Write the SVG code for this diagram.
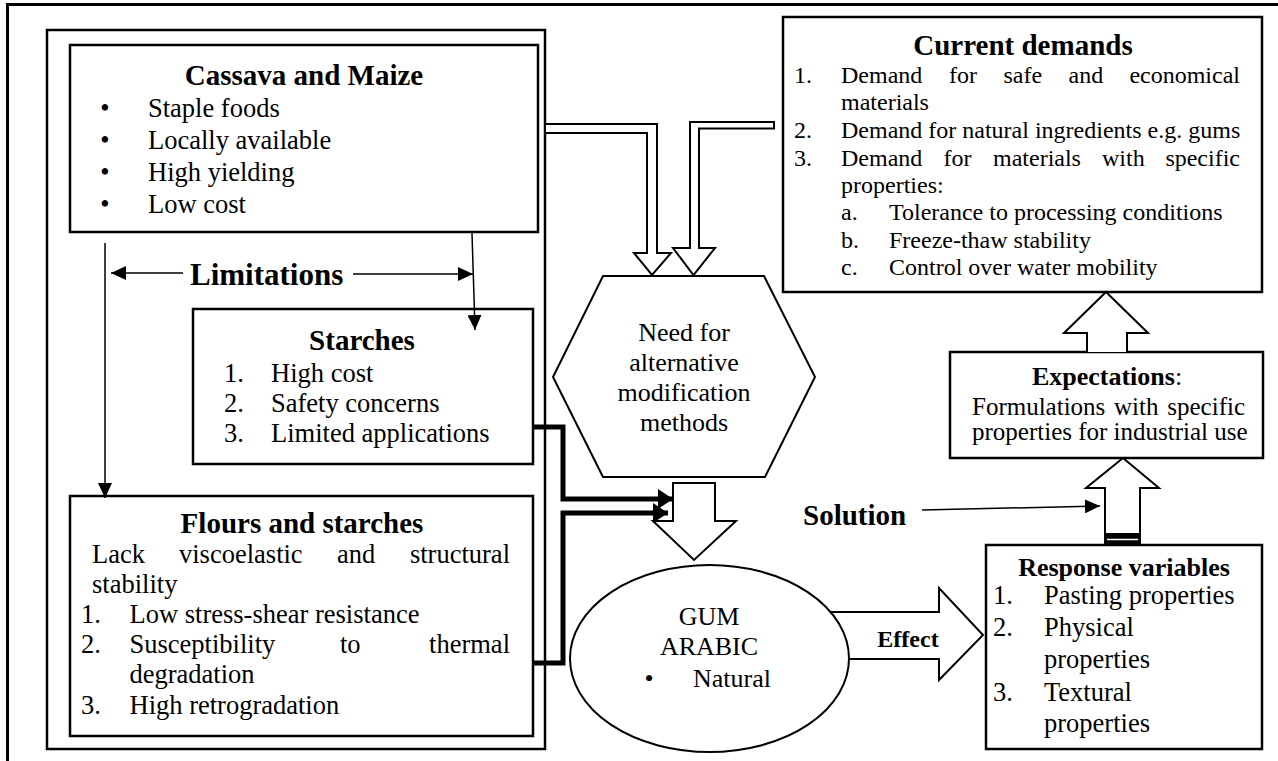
<svg xmlns="http://www.w3.org/2000/svg" width="1278" height="761" viewBox="0 0 1278 761">
<style>
text{font-family:"Liberation Serif","Times New Roman",serif;fill:#000}
.t{font-size:26.5px}
.s{font-size:24px}
.e{font-size:25px}
.h{font-size:26px}
.b{font-weight:bold;font-size:29px}
.box{fill:#fff;stroke:#000;stroke-width:2.5}
.blk{fill:#fff;stroke:#000;stroke-width:2;stroke-linejoin:miter}
.thin{fill:none;stroke:#000;stroke-width:1.5}
.thick{fill:none;stroke:#000;stroke-width:5}
</style>
<defs>
<marker id="ah" markerUnits="userSpaceOnUse" markerWidth="16" markerHeight="14" refX="15" refY="7" orient="auto">
<path d="M0,0 L15,7 L0,14 z" fill="#000"/>
</marker>
<marker id="ahk" markerUnits="userSpaceOnUse" markerWidth="16" markerHeight="20" refX="15" refY="10" orient="auto">
<path d="M0,0 L15,10 L0,20 z" fill="#000"/>
</marker>
</defs>
<rect width="1278" height="761" fill="#fff"/>
<g id="frame">
<path d="M1278,4.5 H7.5 V761" fill="none" stroke="#000" stroke-width="3"/>
<rect x="47" y="30" width="498" height="719" fill="#fff" stroke="#000" stroke-width="2.5"/>
</g>
<g id="cassava">
<rect class="box" x="70" y="45" width="468" height="187"/>
<text class="b" x="304" y="85" text-anchor="middle">Cassava and Maize</text>
<text class="t" x="105" y="117" text-anchor="middle">•</text>
<text class="t" x="148" y="117">Staple foods</text>
<text class="t" x="105" y="149" text-anchor="middle">•</text>
<text class="t" x="148" y="149">Locally available</text>
<text class="t" x="105" y="181" text-anchor="middle">•</text>
<text class="t" x="148" y="181">High yielding</text>
<text class="t" x="105" y="213" text-anchor="middle">•</text>
<text class="t" x="148" y="213">Low cost</text>
</g>
<g id="limitations">
<text class="b" x="190" y="285" style="font-size:31px">Limitations</text>
</g>
<g id="starches">
<rect class="box" x="193" y="309" width="340" height="155"/>
<text class="b" x="362" y="350" text-anchor="middle">Starches</text>
<text class="t" x="224" y="382">1.</text><text class="t" x="271" y="382">High cost</text>
<text class="t" x="224" y="412">2.</text><text class="t" x="271" y="412">Safety concerns</text>
<text class="t" x="224" y="442">3.</text><text class="t" x="271" y="442">Limited applications</text>
</g>
<g id="flours">
<rect class="box" x="70" y="496" width="463" height="240"/>
<text class="b" x="302" y="533" text-anchor="middle">Flours and starches</text>
<text class="t" y="563"><tspan x="92">Lack</tspan><tspan x="179">viscoelastic</tspan><tspan x="337">and</tspan></text>
<text class="t" x="510" y="563" text-anchor="end">structural</text>
<text class="t" x="92" y="593">stability</text>
<text class="t" x="81" y="623">1.</text><text class="t" x="129.5" y="623">Low stress-shear resistance</text>
<text class="t" x="81" y="653">2.</text><text class="t" y="653"><tspan x="129.5">Susceptibility</tspan><tspan x="340">to</tspan></text>
<text class="t" x="510" y="653" text-anchor="end">thermal</text>
<text class="t" x="129.5" y="683">degradation</text>
<text class="t" x="81" y="714">3.</text><text class="t" x="129.5" y="714">High retrogradation</text>
</g>
<g id="demands">
<rect class="box" x="783" y="17" width="479" height="275"/>
<text class="b" x="1023" y="55" text-anchor="middle">Current demands</text>
<text class="s" x="794" y="83">1.</text>
<text class="s" y="83"><tspan x="841">Demand</tspan><tspan x="949">for</tspan><tspan x="1003.5">safe</tspan><tspan x="1068.5">and</tspan></text>
<text class="s" x="1240" y="83" text-anchor="end">economical</text>
<text class="s" x="841" y="110">materials</text>
<text class="s" x="794" y="138">2.</text>
<text class="s" x="841" y="138">Demand for natural ingredients e.g. gums</text>
<text class="s" x="794" y="166">3.</text>
<text class="s" y="166"><tspan x="841">Demand</tspan><tspan x="943.5">for</tspan><tspan x="993">materials</tspan><tspan x="1102">with</tspan></text>
<text class="s" x="1240" y="166" text-anchor="end">specific</text>
<text class="s" x="841" y="193">properties:</text>
<text class="s" x="841" y="220">a.</text><text class="s" x="889" y="220">Tolerance to processing conditions</text>
<text class="s" x="841" y="248">b.</text><text class="s" x="889" y="248">Freeze-thaw stability</text>
<text class="s" x="841" y="275">c.</text><text class="s" x="889" y="275">Control over water mobility</text>
</g>
<g id="need">
<polygon points="603,276 764,276 815,377 765,477 603,477 553,377" fill="#fff" stroke="#000" stroke-width="2"/>
<text class="h" x="684" y="341" text-anchor="middle">Need for</text>
<text class="h" x="684" y="371" text-anchor="middle">alternative</text>
<text class="h" x="684" y="401" text-anchor="middle">modification</text>
<text class="h" x="684" y="431" text-anchor="middle">methods</text>
</g>
<g id="expectations">
<rect class="box" x="950" y="352" width="313" height="106"/>
<text x="1107" y="385" text-anchor="middle" style="font-size:26px"><tspan font-weight="bold">Expectations</tspan>:</text>
<text class="e" y="415"><tspan x="972">Formulations</tspan><tspan x="1114">with</tspan></text>
<text class="e" x="1245" y="415" text-anchor="end">specific</text>
<text class="e" x="972" y="440">properties for industrial use</text>
</g>
<g id="response">
<rect class="box" x="986" y="545" width="276" height="204"/>
<text class="b" x="1124" y="576" text-anchor="middle" style="font-size:26px">Response variables</text>
<text class="t" x="993" y="604">1.</text><text class="t" x="1044" y="604">Pasting properties</text>
<text class="t" x="993" y="636">2.</text><text class="t" x="1044" y="636">Physical</text>
<text class="t" x="1044" y="668">properties</text>
<text class="t" x="993" y="701">3.</text><text class="t" x="1044" y="701">Textural</text>
<text class="t" x="1044" y="732">properties</text>
</g>
<g id="connectors">
<path class="thin" d="M105,243 V498" marker-end="url(#ah)"/>
<path class="thin" d="M472,233 L475,330" marker-end="url(#ah)"/>
<path class="thin" d="M183,273 H111" marker-end="url(#ah)"/>
<path class="thin" d="M353,274 H473" marker-end="url(#ah)"/>
<path class="thick" d="M533,427 H563 V499 H673" marker-end="url(#ahk)"/>
<path class="thick" d="M533,663 H563 V513 H668" marker-end="url(#ahk)"/>
<polygon class="blk" points="545,124 657,124 657,253 671,253 652,275 634,253 647,253 647,133 545,133"/>
<polygon class="blk" points="774,122 690,122 690,248 673,248 693.5,275 715,248 699,248 699,128.5 774,128.5"/>
<polygon class="blk" points="673,483 715,483 715,521 736,521 694,560 653,521 673,521"/>
<path class="blk" d="M830,612 H939 V588 L983,635 L939,680 V659 H830"/>
<path class="blk" d="M1087,352 V333 H1064 L1106,292 L1148,333 H1127 V352"/>
<path class="blk" d="M1105,546 V488 H1086 L1123,458 L1159,488 H1140 V546"/>
<rect x="1105" y="533" width="35" height="13" fill="#000"/>
<line x1="1107" y1="539.5" x2="1138" y2="539.5" stroke="#fff" stroke-width="1.5"/>
<path class="thin" d="M922,510 L1100,506" marker-end="url(#ah)"/>
<text class="b" x="908" y="647" text-anchor="middle" style="font-size:24px">Effect</text>
<text class="b" x="803" y="525">Solution</text>
</g>
<g id="gum">
<ellipse cx="709.5" cy="658.5" rx="139.5" ry="93.5" fill="#fff" stroke="#000" stroke-width="2"/>
<text class="h" x="709" y="625" text-anchor="middle">GUM</text>
<text class="h" x="709" y="655" text-anchor="middle">ARABIC</text>
<text class="h" x="649" y="687" text-anchor="middle">•</text>
<text class="h" x="693" y="687">Natural</text>
</g>
</svg>
